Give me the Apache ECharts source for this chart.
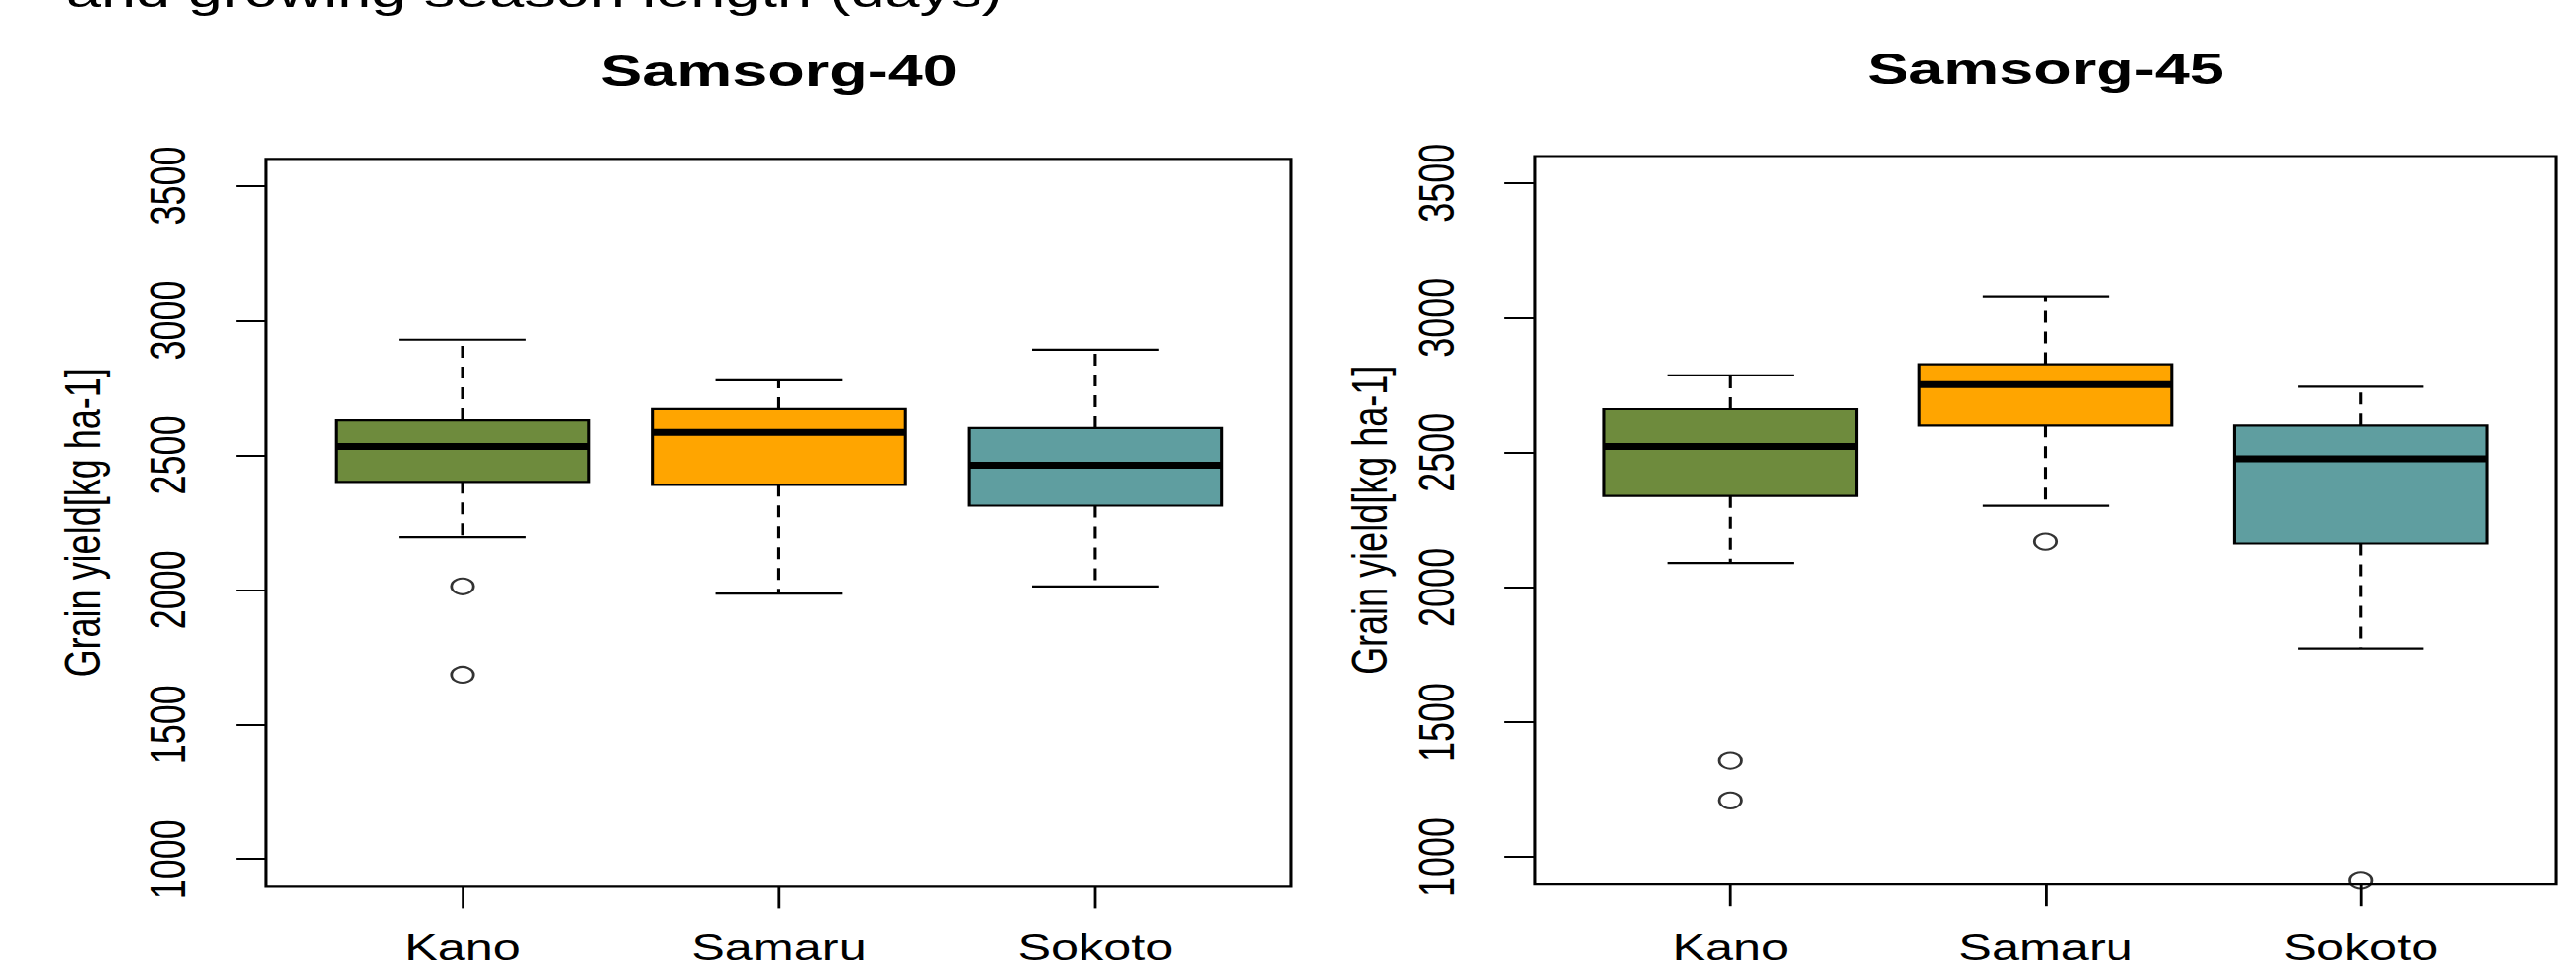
<!DOCTYPE html>
<html>
<head>
<meta charset="utf-8">
<script src="https://cdn.jsdelivr.net/npm/echarts@6/dist/echarts.min.js"></script>
<style>
html,body{margin:0;padding:0;background:#fff;overflow:hidden;}
#c{width:1858px;height:976px;transform:scaleX(1.4);transform-origin:0 0;}
</style>
</head>
<body>
<div id="c"></div>
<script>
// ---- data ----
const categories = ['Kano', 'Samaru', 'Sokoto'];
const panelTitles = ['Samsorg-40', 'Samsorg-45'];
const yTicks = [1000, 1500, 2000, 2500, 3000, 3500];
const yName = 'Grain yield[kg ha-1]';
const captionText = 'and growing season length (days)';
// [lower whisker, Q1, median, Q3, upper whisker]
const s40Stats = [
  [2196, 2401, 2533, 2630, 2929],
  [1986, 2390, 2585, 2671, 2778],
  [2013, 2312, 2463, 2601, 2892]
];
const s45Stats = [
  [2091, 2339, 2523, 2661, 2787],
  [2302, 2601, 2752, 2828, 3078],
  [1773, 2163, 2477, 2601, 2744]
];
// [category index, value]
const s40Outliers = [[0, 2013], [0, 1685]];
const s45Outliers = [[0, 1358], [0, 1210], [1, 2170], [2, 914]];
const boxColors = ['#6E8B3D', '#FFA500', '#5F9EA0'];

// ---- chart ----
const FONT = '"Liberation Sans", Arial, sans-serif';
const chart = echarts.init(document.getElementById('c'), null, {renderer: 'svg'});

function boxData(stats) {
  return stats.map((s, i) => [i + 1].concat(s));
}
function outData(o) {
  return o.map(p => [p[0] + 1, p[1]]);
}
function renderBox(params, api) {
  const x = api.value(0), lo = api.value(1), q1 = api.value(2),
        med = api.value(3), q3 = api.value(4), hi = api.value(5);
  const c = (a, b) => api.coord([a, b]);
  const pHi = c(x, hi), pLo = c(x, lo), pQ3 = c(x, q3), pQ1 = c(x, q1);
  const bl = c(x - 0.4, q3), br = c(x + 0.4, q1);
  const sl = c(x - 0.2, hi)[0], sr = c(x + 0.2, hi)[0];
  const pm = c(x, med)[1];
  const ls = {stroke: '#000', lineWidth: 2.2};
  return {
    type: 'group',
    children: [
      {type: 'line', shape: {x1: pHi[0], y1: pQ3[1], x2: pHi[0], y2: pHi[1]}, style: {stroke: '#000', lineWidth: 2.2, lineDash: [12, 9]}},
      {type: 'line', shape: {x1: pLo[0], y1: pQ1[1], x2: pLo[0], y2: pLo[1]}, style: {stroke: '#000', lineWidth: 2.2, lineDash: [12, 9]}},
      {type: 'line', shape: {x1: sl, y1: pHi[1], x2: sr, y2: pHi[1]}, style: ls},
      {type: 'line', shape: {x1: sl, y1: pLo[1], x2: sr, y2: pLo[1]}, style: ls},
      {type: 'rect', shape: {x: bl[0], y: bl[1], width: br[0] - bl[0], height: br[1] - bl[1]},
        style: {fill: boxColors[params.dataIndex], stroke: '#000', lineWidth: 2.2}},
      {type: 'line', shape: {x1: bl[0], y1: pm, x2: br[0], y2: pm}, style: {stroke: '#000', lineWidth: 7}}
    ]
  };
}

const grids = [
  {left: 192.1, top: 160.3, width: 739.3, height: 734.1},
  {left: 1107.1, top: 157.5, width: 736.5, height: 734.7}
];
const nameGaps = [115, 101.5];
const xLabelMargins = [48, 50];
const centers = grids.map(g => g.left + g.width / 2);

const option = {
  animation: false,
  backgroundColor: '#fff',
  grid: grids.map(g => Object.assign({show: true, borderColor: '#000', borderWidth: 2.2, backgroundColor: 'transparent'}, g)),
  xAxis: [0, 1].map(i => ({
    type: 'value', gridIndex: i, min: 0.38, max: 3.62,
    axisLine: {show: false},
    splitLine: {show: false},
    axisTick: {show: true, customValues: [1, 2, 3], length: 22, lineStyle: {color: '#000', width: 2}},
    axisLabel: {show: true, customValues: [1, 2, 3], margin: xLabelMargins[i], color: '#000', fontSize: 36, fontFamily: FONT, lineHeight: 28,
      formatter: v => categories[Math.round(v) - 1]}
  })),
  yAxis: [0, 1].map(i => ({
    type: 'value', gridIndex: i, min: 900, max: 3600,
    name: yName, nameLocation: 'middle', nameGap: nameGaps[i],
    nameTextStyle: {color: '#000', fontSize: 36, fontFamily: FONT, lineHeight: 36},
    axisLine: {show: false},
    splitLine: {show: false},
    axisTick: {show: true, customValues: yTicks, length: 22, lineStyle: {color: '#000', width: 2}},
    axisLabel: {show: true, customValues: yTicks, rotate: 90, margin: 53, color: '#000', fontSize: 36, fontFamily: FONT, lineHeight: 36,
      formatter: v => String(v)}
  })),
  graphic: [
    {type: 'text', x: 47.9, y: -8.6, style: {text: captionText, font: '45px ' + FONT, fill: '#000', verticalAlign: 'middle', align: 'left'}},
    {type: 'text', x: centers[0], y: 71, style: {text: panelTitles[0], font: 'bold 45px ' + FONT, fill: '#000', verticalAlign: 'middle', align: 'center'}},
    {type: 'text', x: centers[1], y: 69, style: {text: panelTitles[1], font: 'bold 45px ' + FONT, fill: '#000', verticalAlign: 'middle', align: 'center'}}
  ],
  series: [
    {type: 'custom', xAxisIndex: 0, yAxisIndex: 0, data: boxData(s40Stats), encode: {x: 0, y: [1, 2, 3, 4, 5]}, renderItem: renderBox},
    {type: 'custom', xAxisIndex: 1, yAxisIndex: 1, data: boxData(s45Stats), encode: {x: 0, y: [1, 2, 3, 4, 5]}, renderItem: renderBox},
    {type: 'scatter', xAxisIndex: 0, yAxisIndex: 0, data: outData(s40Outliers), symbol: 'circle', symbolSize: 16,
      itemStyle: {color: 'rgba(0,0,0,0)', borderColor: '#000', borderWidth: 2}},
    {type: 'scatter', xAxisIndex: 1, yAxisIndex: 1, data: outData(s45Outliers), symbol: 'circle', symbolSize: 16,
      itemStyle: {color: 'rgba(0,0,0,0)', borderColor: '#000', borderWidth: 2}}
  ]
};
chart.setOption(option);
</script>
</body>
</html>
